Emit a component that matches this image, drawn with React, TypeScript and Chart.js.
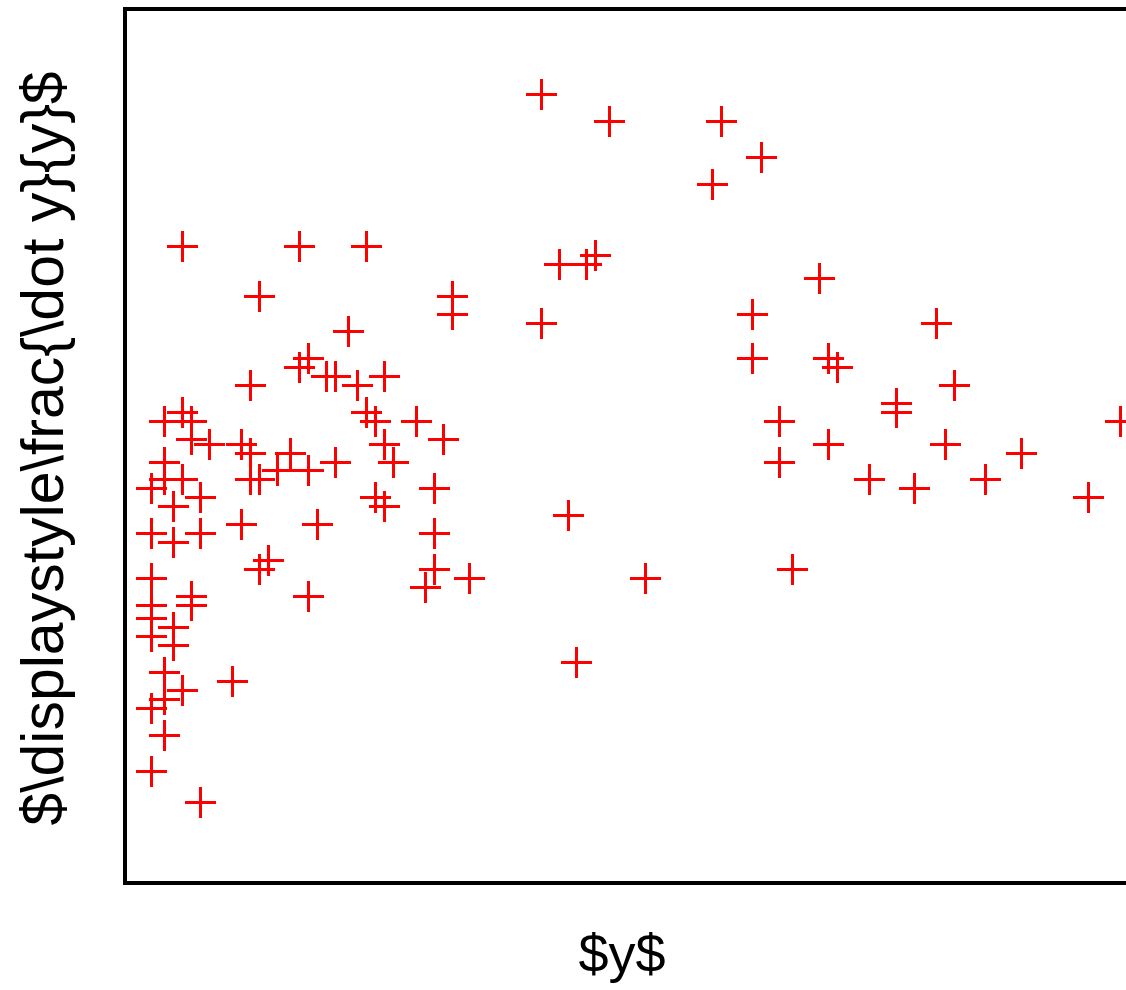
import React, { useEffect, useRef } from "react";
import { Chart, registerables } from "chart.js";

Chart.register(...registerables);

// Horizontal value of each point ($y$)
const xValues: number[] = [
  4.16, 4.84, 5.96, 6.36, 5.87, 0.57, 1.74, 2.41, 4.34, 4.61,
  4.70, 6.94, 1.34, 3.27, 3.27, 4.16, 6.27, 8.11, 2.23, 6.27,
  7.03, 7.12, 1.83, 1.74, 2.01, 2.10, 2.32, 2.59, 1.25, 8.29,
  7.71, 7.71, 9.95, 6.54, 7.03, 8.20, 6.54, 8.96, 7.44, 7.89,
  8.60, 9.63, 6.67, 0.57, 0.39, 0.66, 0.66, 0.84, 1.16, 1.25,
  1.25, 1.34, 1.65, 1.52, 1.83, 2.10, 2.41, 2.50, 2.59, 2.68,
  2.91, 3.18, 0.39, 0.39, 0.57, 0.26, 0.48, 0.75, 2.50, 2.59,
  3.09, 1.16, 1.92, 0.26, 0.48, 0.75, 3.09, 1.43, 1.34, 3.09,
  3.00, 3.44, 0.26, 0.66, 0.66, 0.26, 0.26, 0.48, 0.26, 0.48,
  1.83, 0.39, 0.57, 0.39, 0.26, 1.07, 0.39, 0.26, 0.75, 4.43,
  5.20, 4.51,
];

// Vertical value of each point (\dot y / y)
const yValues: number[] = [
  7.89, 7.62, 7.62, 7.26, 6.99, 6.37, 6.37, 6.37, 6.19, 6.19,
  6.28, 6.05, 5.87, 5.87, 5.69, 5.60, 5.69, 5.60, 5.52, 5.25,
  5.25, 5.16, 5.25, 5.16, 5.07, 5.07, 4.98, 5.07, 4.98, 4.98,
  4.80, 4.71, 4.62, 4.62, 4.39, 4.39, 4.21, 4.30, 4.04, 3.95,
  4.04, 3.86, 3.14, 4.71, 4.62, 4.62, 4.44, 4.39, 4.39, 4.30,
  4.04, 4.04, 4.30, 4.13, 4.13, 4.21, 4.71, 4.62, 4.39, 4.21,
  4.62, 4.44, 4.21, 4.04, 4.04, 3.95, 3.77, 3.86, 3.86, 3.77,
  3.95, 3.59, 3.59, 3.50, 3.41, 3.50, 3.50, 3.23, 3.14, 3.14,
  2.96, 3.05, 3.05, 2.87, 2.78, 2.78, 2.65, 2.56, 2.47, 2.38,
  2.87, 2.11, 1.93, 1.84, 1.75, 2.02, 1.48, 1.12, 0.81, 3.68,
  3.05, 2.21,
];

const xRange: number[] = [0, 10.005];
const yRange: number[] = [0, 8.74];

const xTitle = "$y$";
const yTitle = "$\\displaystyle\\frac{\\dot y}{y}$";

const W = 1126;
const H = 990;

const framePlugin = {
  id: "framePlugin",
  afterDatasetsDraw(chart: any) {
    const { ctx, chartArea } = chart;
    const left = Math.floor(chartArea.left);
    const top = Math.floor(chartArea.top);
    const bottom = Math.floor(chartArea.bottom);
    ctx.save();
    ctx.strokeStyle = "#000000";
    ctx.lineWidth = 4;
    ctx.lineCap = "butt";
    ctx.beginPath();
    ctx.moveTo(W + 10, top);
    ctx.lineTo(left - 2, top);
    ctx.moveTo(left, top - 2);
    ctx.lineTo(left, bottom + 2);
    ctx.moveTo(left - 2, bottom);
    ctx.lineTo(W + 10, bottom);
    ctx.stroke();

    ctx.fillStyle = "#000000";
    ctx.textAlign = "center";
    ctx.textBaseline = "alphabetic";
    ctx.font = "54px 'Liberation Sans', Arial, sans-serif";
    ctx.fillText(xTitle, 622, 972);

    ctx.translate(63, 448.5);
    ctx.rotate(-Math.PI / 2);
    ctx.font = "59px 'Liberation Sans', Arial, sans-serif";
    ctx.fillText(yTitle, 0, 0);
    ctx.restore();
  },
};

export default function App() {
  const canvasRef = useRef<HTMLCanvasElement | null>(null);

  useEffect(() => {
    const canvas = canvasRef.current;
    if (!canvas) return;
    const points = xValues.map((x, i) => ({ x, y: yValues[i] }));
    const chart = new Chart(canvas, {
      type: "scatter",
      data: {
        datasets: [
          {
            data: points,
            pointStyle: "cross",
            pointRadius: 15.5,
            pointBorderWidth: 3,
            borderWidth: 3,
            borderColor: "#ff0000",
            backgroundColor: "#ff0000",
            pointBorderColor: "#ff0000",
            showLine: false,
            clip: false,
          } as any,
        ],
      },
      options: {
        responsive: false,
        animation: false,
        devicePixelRatio: 1,
        events: [],
        layout: { autoPadding: false, padding: { left: 125.5, top: 9.5, right: 0, bottom: H - 883.5 } },
        plugins: {
          legend: { display: false },
          tooltip: { enabled: false },
          title: { display: false },
        },
        scales: {
          x: { type: "linear", display: false, min: xRange[0], max: xRange[1] },
          y: { type: "linear", display: false, min: yRange[0], max: yRange[1] },
        },
      } as any,
      plugins: [framePlugin],
    });
    return () => chart.destroy();
  }, []);

  return (
    <div style={{ position: "fixed", left: 0, top: 0, width: W, height: H, overflow: "hidden", background: "#ffffff" }}>
      <canvas ref={canvasRef} width={W} height={H} style={{ display: "block", width: W, height: H }} />
    </div>
  );
}
